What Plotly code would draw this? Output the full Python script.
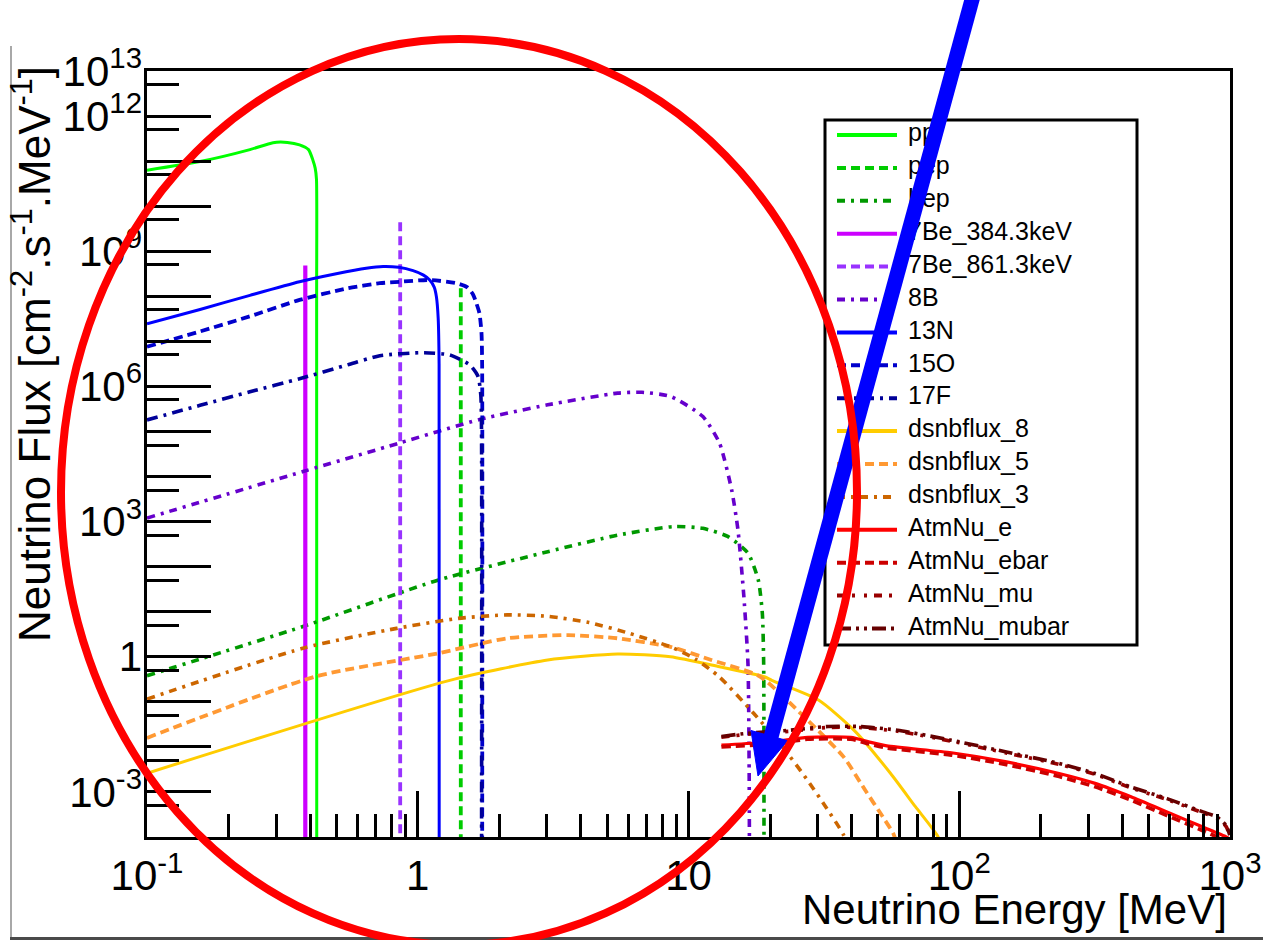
import plotly.graph_objects as go

# ---------------- flux spectra (E in MeV, flux in cm^-2 s^-1 MeV^-1) ----------------
pp_E = [0.100, 0.157, 0.240, 0.292, 0.330, 0.366, 0.395, 0.410, 0.4180, 0.4226, 0.4232, 0.4236]
pp_F = [6.3e10, 9.8e10, 1.8e11, 2.57e11, 2.6e11, 2.3e11, 1.8e11, 1.05e11, 7.0e10, 4.0e10, 1.0e8, 1.0e-5]

pep_E = [1.442, 1.442]
pep_F = [1.5e8, 1.0e-5]

hep_E = [0.100, 0.377, 1.186, 3.02, 5.47, 8.88, 11.30, 13.96, 16.58, 18.11, 18.74, 18.95, 19.00]
hep_F = [0.38, 4.7, 50, 214, 500, 776, 708, 468, 200, 50, 9.1, 0.71, 1.0e-5]

be7a_E = [0.3843, 0.3843]
be7a_F = [4.8e8, 1.0e-5]

be7b_E = [0.8613, 0.8613]
be7b_F = [4.4e9, 1.0e-5]

b8_E = [0.100, 0.377, 0.852, 1.68, 3.02, 5.47, 6.73, 8.58, 11.30, 13.02, 14.44, 15.23, 16.02, 16.58, 16.75, 16.80]
b8_F = [1.2e3, 1.29e4, 5.5e4, 1.82e5, 3.9e5, 7.1e5, 7.4e5, 6.0e5, 2.14e5, 5.5e4, 5.0e3, 6.5e2, 21, 0.72, 3.2e-3, 1.0e-5]

n13_E = [0.100, 0.157, 0.240, 0.366, 0.500, 0.645, 0.745, 0.850, 0.961, 1.050, 1.107, 1.150, 1.172, 1.190, 1.199, 1.200]
n13_F = [2.45e7, 5.1e7, 1.05e8, 2.1e8, 3.16e8, 4.2e8, 4.6e8, 4.4e8, 3.7e8, 2.95e8, 2.3e8, 1.6e8, 9.8e7, 3.2e7, 3.2e6, 1.0e-5]

o15_E = [0.100, 0.157, 0.240, 0.366, 0.550, 0.724, 0.859, 1.107, 1.390, 1.520, 1.600, 1.648, 1.690, 1.720, 1.729, 1.7295]
o15_F = [7.6e6, 1.66e7, 3.6e7, 8.3e7, 1.5e8, 1.95e8, 2.1e8, 2.3e8, 1.95e8, 1.6e8, 1.1e8, 6.9e7, 4.2e7, 1.5e7, 3.2e6, 1.0e-5]

f17_E = [0.100, 0.157, 0.240, 0.366, 0.550, 0.724, 1.046, 1.313, 1.556, 1.670, 1.710, 1.720, 1.7205]
f17_F = [1.8e5, 3.8e5, 7.6e5, 1.48e6, 3.0e6, 4.8e6, 5.6e6, 5.0e6, 3.0e6, 1.66e6, 6.3e5, 1.0e5, 1.0e-5]

dsnb8_E = [0.100, 1.313, 3.02, 5.47, 8.58, 13.02, 19.08, 20.30, 30.2, 41.0, 55.7, 68.9, 82.8, 100.0]
dsnb8_F = [2.6e-3, 0.30, 0.85, 1.15, 1.0, 0.60, 0.36, 0.30, 0.11, 0.023, 2.6e-3, 4.7e-4, 1.1e-4, 1.0e-5]

dsnb5_E = [0.100, 0.418, 1.186, 2.138, 3.60, 5.47, 8.58, 12.14, 18.36, 27.55, 37.4, 44.9, 52.3, 57.4, 64.0]
dsnb5_F = [0.0158, 0.363, 1.19, 2.57, 3.02, 2.57, 1.66, 0.85, 0.363, 0.039, 6.0e-3, 1.1e-3, 2.75e-4, 1.1e-4, 1.0e-5]

dsnb3_E = [0.100, 0.377, 0.836, 1.41, 2.138, 3.02, 4.29, 6.06, 8.58, 10.56, 13.02, 17.43, 22.25, 27.55, 32.1, 37.4, 43.0]
dsnb3_F = [0.115, 1.55, 4.27, 7.1, 8.5, 7.9, 5.75, 3.3, 1.66, 0.91, 0.355, 0.055, 0.01, 1.8e-3, 4.7e-4, 1.1e-4, 1.0e-5]

atm_e_E = [13.23, 20.30, 27.55, 39.8, 46.3, 54.0, 93.5, 147.9, 233.8, 317.6, 430.9, 585.1, 794.1, 968.0, 1000.0]
atm_e_F = [0.011, 0.0129, 0.0162, 0.0162, 0.0129, 0.0105, 7.4e-3, 4.7e-3, 2.57e-3, 1.55e-3, 7.8e-4, 3.6e-4, 1.66e-4, 1.0e-4, 8.9e-5]
atm_ebar_F = [0.0100, 0.0117, 0.0148, 0.0148, 0.0117, 9.5e-3, 6.6e-3, 4.1e-3, 2.2e-3, 1.3e-3, 6.6e-4, 3.0e-4, 1.38e-4, 7.9e-5, 6.3e-5]

atm_mu_E = [13.23, 16.39, 23.66, 32.1, 43.6, 59.2, 93.5, 147.9, 233.8, 317.6, 430.9, 585.1, 794.1, 897.0, 968.0, 998.0]
atm_mu_F = [0.0163, 0.0190, 0.0222, 0.0268, 0.0268, 0.0222, 0.0134, 7.4e-3, 4.1e-3, 2.45e-3, 1.23e-3, 6.8e-4, 3.45e-4, 2.6e-4, 1.7e-4, 1.05e-4]
atm_mubar_F = [0.017, 0.020, 0.0234, 0.0282, 0.0282, 0.0234, 0.0141, 7.8e-3, 4.3e-3, 2.57e-3, 1.29e-3, 7.1e-4, 3.6e-4, 2.75e-4, 1.8e-4, 1.1e-4]

# ---------------- axis ticks ----------------
x_major = [0.1, 1, 10, 100, 1000]
x_major_text = ["10<sup>-1</sup>", "1", "10", "10<sup>2</sup>", "10<sup>3</sup>"]
y_decades = list(range(-4, 14))
y_label_vals = [1e13, 1e12, 1e9, 1e6, 1e3, 1, 1e-3]
y_label_text = ["10<sup>13</sup>", "10<sup>12</sup>", "10<sup>9</sup>", "10<sup>6</sup>",
                "10<sup>3</sup>", "1", "10<sup>-3</sup>"]

# ---------------- line styles ----------------
SOLID = "solid"
DASH = "9px,5px"
DASHDOT = "8px,6px,3px,6px"
LONGDASHDOT = "11px,6px,3px,6px"
DASHDOTDOT = "8px,7px,3px,9px,3px,7px"
DASH3DOT = "14px,5px,3px,5px,3px,5px"

# name, energies, fluxes, colour, dash, width, smooth curve?
series = [
    ("pp", pp_E, pp_F, "#00ff00", SOLID, 3.0, True),
    ("pep", pep_E, pep_F, "#00cc00", DASH, 3.8, False),
    ("hep", hep_E, hep_F, "#009900", DASHDOT, 3.6, True),
    ("7Be_384.3keV", be7a_E, be7a_F, "#cc00ff", SOLID, 4.2, False),
    ("7Be_861.3keV", be7b_E, be7b_F, "#9933ff", DASH, 3.8, False),
    ("8B", b8_E, b8_F, "#6600cc", DASHDOT, 3.6, True),
    ("13N", n13_E, n13_F, "#0000ff", SOLID, 3.0, True),
    ("15O", o15_E, o15_F, "#0000cc", DASH, 3.8, True),
    ("17F", f17_E, f17_F, "#000099", LONGDASHDOT, 3.6, True),
    ("dsnbflux_8", dsnb8_E, dsnb8_F, "#ffcc00", SOLID, 3.0, True),
    ("dsnbflux_5", dsnb5_E, dsnb5_F, "#ff9933", DASH, 3.8, True),
    ("dsnbflux_3", dsnb3_E, dsnb3_F, "#cc6600", DASHDOT, 3.6, True),
    ("AtmNu_e", atm_e_E, atm_e_F, "#ff0000", SOLID, 3.2, True),
    ("AtmNu_ebar", atm_e_E, atm_ebar_F, "#cc0000", DASH, 3.8, True),
    ("AtmNu_mu", atm_mu_E, atm_mu_F, "#990000", DASHDOTDOT, 3.6, True),
    ("AtmNu_mubar", atm_mu_E, atm_mubar_F, "#660000", DASH3DOT, 3.6, True),
]

FONT = "Liberation Sans, Arial, sans-serif"
W, H = 1263, 940
L, R, T, B = 147, 1230, 71, 837          # plot-area edges in pixels


def px(x):
    return (x - L) / (R - L)


def py(y):
    return (B - y) / (B - T)


fig = go.Figure()

for name, e, f, color, dash, width, smooth in series:
    line = dict(color=color, dash=dash, width=width)
    if smooth:
        line.update(shape="spline", smoothing=0.6)
    fig.add_trace(go.Scatter(x=e, y=f, mode="lines", name=name, showlegend=False,
                             line=line, hoverinfo="skip"))

# empty trace so the label-only y axis gets drawn
fig.add_trace(go.Scatter(x=[], y=[], xaxis="x", yaxis="y3", showlegend=False, hoverinfo="skip"))

# ---------------- legend (drawn on an overlay subplot in paper units) ----------------
LEG_ROW0, LEG_STEP = 135, 32.9
LEG_X0, LEG_X1, LEG_TXT = 837, 897, 908
for i, (name, e, f, color, dash, width, smooth) in enumerate(series):
    yy = py(LEG_ROW0 + i * LEG_STEP)
    fig.add_trace(go.Scatter(x=[px(LEG_X0), px(LEG_X1)], y=[yy, yy], xaxis="x2", yaxis="y2",
                             mode="lines", showlegend=False, hoverinfo="skip",
                             line=dict(color=color, dash=dash, width=4)))
fig.add_trace(go.Scatter(
    x=[px(LEG_TXT)] * len(series),
    y=[py(LEG_ROW0 + i * LEG_STEP) for i in range(len(series))],
    xaxis="x2", yaxis="y2", mode="text", text=[s[0] for s in series],
    textposition="middle right", showlegend=False, hoverinfo="skip",
    textfont=dict(family=FONT, size=25, color="black")))

x_minor = [m * d for d in (0.1, 1, 10, 100) for m in range(2, 10)]
y_minor = [5 * 10.0 ** k for k in range(-5, 13)]

tick_font = dict(family=FONT, size=42, color="black")
axis_common = dict(type="log", showline=True, linecolor="black", linewidth=2.5, mirror=True,
                   ticks="inside", tickcolor="black", tickwidth=2.5, showgrid=False,
                   zeroline=False, tickmode="array", automargin=False, tickfont=tick_font)

fig.update_layout(
    template="none",
    width=W, height=H,
    margin=dict(l=L, r=W - R, t=T, b=H - B, pad=0),
    paper_bgcolor="white", plot_bgcolor="white",
    showlegend=False,
    xaxis=dict(axis_common, range=[-1, 3], ticklen=46,
               tickvals=x_major, ticktext=x_major_text,
               minor=dict(ticks="inside", ticklen=23, tickwidth=2.5, tickcolor="black",
                          tickmode="array", tickvals=x_minor, showgrid=False)),
    yaxis=dict(axis_common, range=[-4, 13], ticklen=64,
               tickvals=[10.0 ** k for k in y_decades], showticklabels=False,
               minor=dict(ticks="inside", ticklen=32, tickwidth=2.5, tickcolor="black",
                          tickmode="array", tickvals=y_minor, showgrid=False)),
    yaxis3=dict(overlaying="y", side="left", type="log", range=[-4, 13], tickmode="array",
                tickvals=y_label_vals, ticktext=y_label_text, ticks="", showline=False,
                showgrid=False, zeroline=False, automargin=False, tickfont=tick_font,
                ticklabelstandoff=4),
    xaxis2=dict(overlaying="x", range=[0, 1], visible=False, automargin=False),
    yaxis2=dict(overlaying="y", range=[0, 1], visible=False, automargin=False),
)

# axis titles
fig.add_annotation(text="Neutrino Energy [MeV]", xref="paper", yref="paper",
                   x=px(1229), y=py(909), xanchor="right", yanchor="middle", showarrow=False,
                   font=dict(family=FONT, size=42, color="black"))
fig.add_annotation(text="Neutrino Flux [cm<sup>-2</sup>.s<sup>-1</sup>.MeV<sup>-1</sup>]",
                   xref="paper", yref="paper", textangle=-90,
                   x=px(31), y=py(354), xanchor="center", yanchor="middle", showarrow=False,
                   font=dict(family=FONT, size=44, color="black"))

shapes = []
# page frame shadow
shapes.append(dict(type="line", xref="paper", yref="paper", x0=px(11), x1=px(11),
                   y0=py(46), y1=py(938), line=dict(color="#a8a8a8", width=2)))
shapes.append(dict(type="line", xref="paper", yref="paper", x0=px(10), x1=px(1263),
                   y0=py(938.5), y1=py(938.5), line=dict(color="#4a4a4a", width=3)))
# legend box
shapes.append(dict(type="rect", xref="paper", yref="paper", layer="below",
                   x0=px(825), x1=px(1137), y0=py(645), y1=py(120),
                   line=dict(color="black", width=3), fillcolor="white"))
# blue arrow: shaft and head
tip = (758, 776)
base = (769.3, 735.6)
c1, c2 = (787.6, 740.7), (751.0, 730.5)
shapes.append(dict(type="line", xref="paper", yref="paper", x0=px(973), y0=py(-4),
                   x1=px(base[0] + 1), y1=py(base[1] + 4), line=dict(color="#0000ff", width=15)))
shapes.append(dict(type="path", xref="paper", yref="paper",
                   path="M{},{} L{},{} L{},{} Z".format(px(tip[0]), py(tip[1]), px(c1[0]), py(c1[1]),
                                                        px(c2[0]), py(c2[1])),
                   fillcolor="#0000ff", line=dict(color="#0000ff", width=1)))
# red ellipse
shapes.append(dict(type="circle", xref="paper", yref="paper",
                   x0=px(61), x1=px(857), y0=py(945), y1=py(39),
                   line=dict(color="#ff0000", width=8)))
fig.update_layout(shapes=shapes)

fig.write_html("out.html")
